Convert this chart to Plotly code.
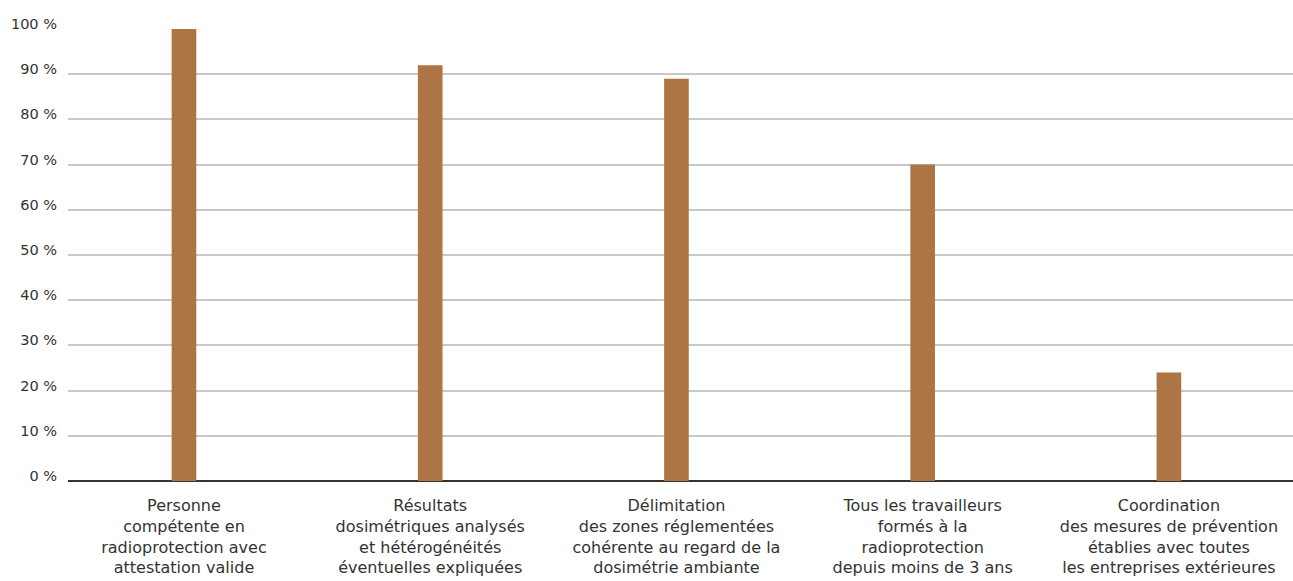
import plotly.graph_objects as go

categories = [
    "Personne<br>compétente en<br>radioprotection avec<br>attestation valide",
    "Résultats<br>dosimétriques analysés<br>et hétérogénéités<br>éventuelles expliquées",
    "Délimitation<br>des zones réglementées<br>cohérente au regard de la<br>dosimétrie ambiante",
    "Tous les travailleurs<br>formés à la<br>radioprotection<br>depuis moins de 3 ans",
    "Coordination<br>des mesures de prévention<br>établies avec toutes<br>les entreprises extérieures",
]
values = [100, 92, 89, 70, 24]
y_ticks = [0, 10, 20, 30, 40, 50, 60, 70, 80, 90, 100]
y_tick_labels = [f"{v} %" for v in y_ticks]

font_family = "DejaVu Sans, Open Sans, sans-serif"
text_color = "#333333"

fig = go.Figure(
    go.Bar(
        x=list(range(len(categories))),
        y=values,
        width=0.1,
        marker=dict(color="#ad7543", line=dict(width=0)),
        hoverinfo="y",
    )
)

fig.update_layout(
    width=1293,
    height=581,
    margin=dict(l=68, r=0, t=29, b=100, pad=0),
    paper_bgcolor="white",
    plot_bgcolor="white",
    showlegend=False,
    font=dict(family=font_family, color=text_color),
    xaxis=dict(
        tickmode="array",
        tickvals=list(range(len(categories))),
        ticktext=categories,
        range=[-0.471, 4.504],
        showgrid=False,
        zeroline=False,
        showline=False,
        ticks="",
        automargin=False,
        tickfont=dict(size=16, color=text_color),
        ticklabelstandoff=13,
    ),
    yaxis=dict(
        range=[0, 100],
        tickmode="array",
        tickvals=y_ticks,
        ticktext=y_tick_labels,
        showgrid=True,
        gridcolor="#c8c8c8",
        gridwidth=1.5,
        zeroline=True,
        zerolinecolor="#333333",
        zerolinewidth=1.5,
        showline=False,
        ticks="",
        automargin=False,
        tickfont=dict(size=14.5, color=text_color),
        ticklabelstandoff=10,
        ticklabelshift=-5,
    ),
)

fig.write_html("out.html")
